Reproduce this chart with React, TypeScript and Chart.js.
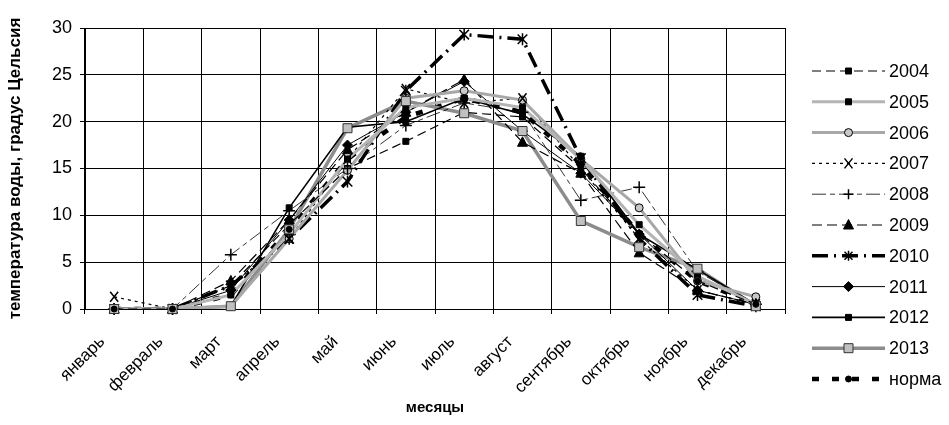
import React, { useEffect, useRef } from 'react';
import { Chart, registerables } from 'chart.js';

Chart.register(...registerables);

const months = ['январь', 'февраль', 'март', 'апрель', 'май', 'июнь', 'июль', 'август', 'сентябрь', 'октябрь', 'ноябрь', 'декабрь'];
const seriesNames = ['2004', '2005', '2006', '2007', '2008', '2009', '2010', '2011', '2012', '2013', 'норма'];
const yTicks = [0, 5, 10, 15, 20, 25, 30];

const v2004 = [0, 0, 2.5, 9, 15, 17.9, 21, 20.5, 15, 8, 3, 0.5];
const v2005 = [0, 0, 1.5, 8, 16, 21.5, 22.5, 21.5, 16, 9, 3.5, 0.5];
const v2006 = [0, 0, 0.3, 7.5, 14.8, 22.5, 23.3, 22.3, 16, 10.8, 3, 1.3];
const v2007 = [1.3, 0, 2.5, 7.5, 16, 23.5, 22, 22.5, 15, 7.5, 2, 0.5];
const v2008 = [0, 0, 5.8, 10.5, 15, 19.6, 22, 21, 11.6, 13, 4, 0.5];
const v2009 = [0, 0, 3, 9.5, 17, 21, 24.5, 17.8, 14.5, 6, 2, 0.5];
const v2010 = [0, 0, 2.5, 7.5, 13.6, 23.3, 29.3, 28.8, 16.1, 7.5, 1.5, 0.3];
const v2011 = [0, 0, 2, 9.5, 17.5, 21, 24.3, 19, 14.5, 8, 2, 0.5];
const v2012 = [0, 0, 0.3, 10.8, 19.4, 20, 22.5, 20.8, 16.3, 8, 4.2, 0.5];
const v2013 = [0, 0, 0.3, 8.5, 19.3, 22.2, 20.9, 19, 9.4, 6.6, 4.3, 0.3];
const vNorm = [0, 0, 1.5, 8.5, 16, 20.5, 22.5, 21, 15.5, 8, 3, 0.5];

const allValues = [v2004, v2005, v2006, v2007, v2008, v2009, v2010, v2011, v2012, v2013, vNorm];

const FONT = "Arial, 'Liberation Sans', sans-serif";

type Style = {
  color: string; width: number; dash: number[]; point: string; radius: number; fill: string; stroke: string;
};

const styles: Style[] = [
  { color: '#000', width: 1.2, dash: [9, 5], point: 'rect', radius: 3, fill: '#000', stroke: '#000' },
  { color: '#b4b4b4', width: 3, dash: [], point: 'rect', radius: 3, fill: '#000', stroke: '#000' },
  { color: '#a8a8a8', width: 3, dash: [], point: 'circle', radius: 4, fill: '#c8c8c8', stroke: '#000' },
  { color: '#000', width: 1.2, dash: [3, 4], point: 'crossRot', radius: 5, fill: '#000', stroke: '#000' },
  { color: '#000', width: 0.8, dash: [14, 4, 5, 4], point: 'cross', radius: 6, fill: '#000', stroke: '#000' },
  { color: '#000', width: 1.2, dash: [10, 5], point: 'triangle', radius: 5, fill: '#000', stroke: '#000' },
  { color: '#000', width: 3.5, dash: [16, 6, 2, 6], point: 'star', radius: 6, fill: '#000', stroke: '#000' },
  { color: '#000', width: 1, dash: [], point: 'rectRot', radius: 5, fill: '#000', stroke: '#000' },
  { color: '#000', width: 1.6, dash: [], point: 'rect', radius: 3, fill: '#000', stroke: '#000' },
  { color: '#8c8c8c', width: 3.5, dash: [], point: 'rect', radius: 4.5, fill: '#c0c0c0', stroke: '#333' },
  { color: '#000', width: 4.5, dash: [7, 13], point: 'circle', radius: 3, fill: '#000', stroke: '#000' },
];

function drawMarker(ctx: CanvasRenderingContext2D, s: Style, x: number, y: number) {
  const r = s.radius;
  ctx.save();
  ctx.setLineDash([]);
  ctx.fillStyle = s.fill;
  ctx.strokeStyle = s.stroke;
  ctx.lineWidth = 1;
  ctx.beginPath();
  switch (s.point) {
    case 'rect':
      ctx.rect(x - r, y - r, 2 * r, 2 * r);
      ctx.fill(); ctx.stroke();
      break;
    case 'circle':
      ctx.arc(x, y, r, 0, Math.PI * 2);
      ctx.fill(); ctx.stroke();
      break;
    case 'triangle':
      ctx.moveTo(x, y - r * 1.1);
      ctx.lineTo(x + r, y + r * 0.8);
      ctx.lineTo(x - r, y + r * 0.8);
      ctx.closePath();
      ctx.fill(); ctx.stroke();
      break;
    case 'rectRot':
      ctx.moveTo(x, y - r); ctx.lineTo(x + r, y); ctx.lineTo(x, y + r); ctx.lineTo(x - r, y); ctx.closePath();
      ctx.fill(); ctx.stroke();
      break;
    case 'cross':
      ctx.lineWidth = 1.5;
      ctx.moveTo(x - r, y); ctx.lineTo(x + r, y); ctx.moveTo(x, y - r); ctx.lineTo(x, y + r);
      ctx.stroke();
      break;
    case 'crossRot':
      ctx.lineWidth = 1.5;
      ctx.moveTo(x - r * 0.8, y - r); ctx.lineTo(x + r * 0.8, y + r); ctx.moveTo(x + r * 0.8, y - r); ctx.lineTo(x - r * 0.8, y + r);
      ctx.stroke();
      break;
    case 'star':
      ctx.lineWidth = 1.5;
      ctx.moveTo(x - r * 0.8, y - r * 0.8); ctx.lineTo(x + r * 0.8, y + r * 0.8);
      ctx.moveTo(x + r * 0.8, y - r * 0.8); ctx.lineTo(x - r * 0.8, y + r * 0.8);
      ctx.moveTo(x, y - r); ctx.lineTo(x, y + r);
      ctx.stroke();
      break;
  }
  ctx.restore();
}

const markerPlugin = {
  id: 'customMarkers',
  afterDatasetsDraw(chart: any) {
    const ctx = chart.ctx;
    chart.data.datasets.forEach((ds: any, i: number) => {
      const meta = chart.getDatasetMeta(i);
      meta.data.forEach((pt: any) => drawMarker(ctx, styles[i], pt.x, pt.y));
    });
  },
};

const legendPlugin = {
  id: 'customLegend',
  afterDraw(chart: any) {
    const ctx = chart.ctx;
    const x1 = 812, x2 = 885, top = 71, step = 30.8;
    chart.data.datasets.forEach((ds: any, i: number) => {
      const s = styles[i];
      const y = top + i * step;
      ctx.save();
      ctx.strokeStyle = s.color;
      ctx.lineWidth = s.width;
      ctx.setLineDash(s.dash);
      ctx.beginPath();
      ctx.moveTo(x1, y);
      ctx.lineTo(x2, y);
      ctx.stroke();
      ctx.restore();
      drawMarker(ctx, { ...s, radius: Math.min(s.radius, 5) }, (x1 + x2) / 2, y);
      ctx.save();
      ctx.fillStyle = '#000';
      ctx.font = `18px ${FONT}`;
      ctx.textBaseline = 'middle';
      ctx.textAlign = 'left';
      ctx.fillText(ds.label, x2 + 4, y + 1);
      ctx.restore();
    });
  },
};

export default function App() {
  const ref = useRef<HTMLCanvasElement | null>(null);
  useEffect(() => {
    document.body.style.margin = '0';
    if (!ref.current) return;
    const chart = new Chart(ref.current, {
      type: 'line',
      data: {
        labels: months,
        datasets: allValues.map((vals, i) => ({
          label: seriesNames[i],
          data: vals,
          borderColor: styles[i].color,
          borderWidth: styles[i].width,
          borderDash: styles[i].dash,
          pointRadius: 0,
          pointHoverRadius: 0,
          fill: false,
          tension: 0,
        })),
      },
      options: {
        animation: false,
        responsive: false,
        maintainAspectRatio: false,
        events: [],
        layout: { padding: { left: 0, right: 164, top: 28, bottom: 0 } },
        plugins: { legend: { display: false }, tooltip: { enabled: false } },
        scales: {
          x: {
            offset: true,
            afterFit: (scale: any) => { scale.height = 116; },
            grid: { offset: true, color: '#000', lineWidth: 1, drawTicks: true, tickLength: 5 },
            border: { color: '#000', width: 1 },
            ticks: { color: '#000', font: { family: FONT, size: 17 }, maxRotation: 45, minRotation: 45, autoSkip: false, padding: 18, labelOffset: -12 },
            title: { display: true, text: 'месяцы', color: '#000', font: { family: FONT, size: 15, weight: 'bold' }, padding: { top: 0, bottom: 8 } },
          },
          y: {
            min: 0,
            max: 30,
            afterFit: (scale: any) => { scale.width = 85; },
            afterBuildTicks: (scale: any) => { scale.ticks = yTicks.map((v) => ({ value: v })); },
            grid: { color: '#000', lineWidth: 1, tickLength: 5 },
            border: { color: '#000', width: 1 },
            ticks: { color: '#000', font: { family: FONT, size: 18 }, padding: 8 },
            title: { display: true, text: 'температура воды, градус Цельсия', color: '#000', font: { family: FONT, size: 17, weight: 'bold' }, padding: { top: 5, bottom: 6 } },
          },
        },
      },
      plugins: [markerPlugin, legendPlugin],
    });
    return () => chart.destroy();
  }, []);
  return (
    <div style={{ width: 949, height: 425, background: '#fff' }}>
      <canvas ref={ref} width={949} height={425} style={{ display: 'block' }} />
    </div>
  );
}
